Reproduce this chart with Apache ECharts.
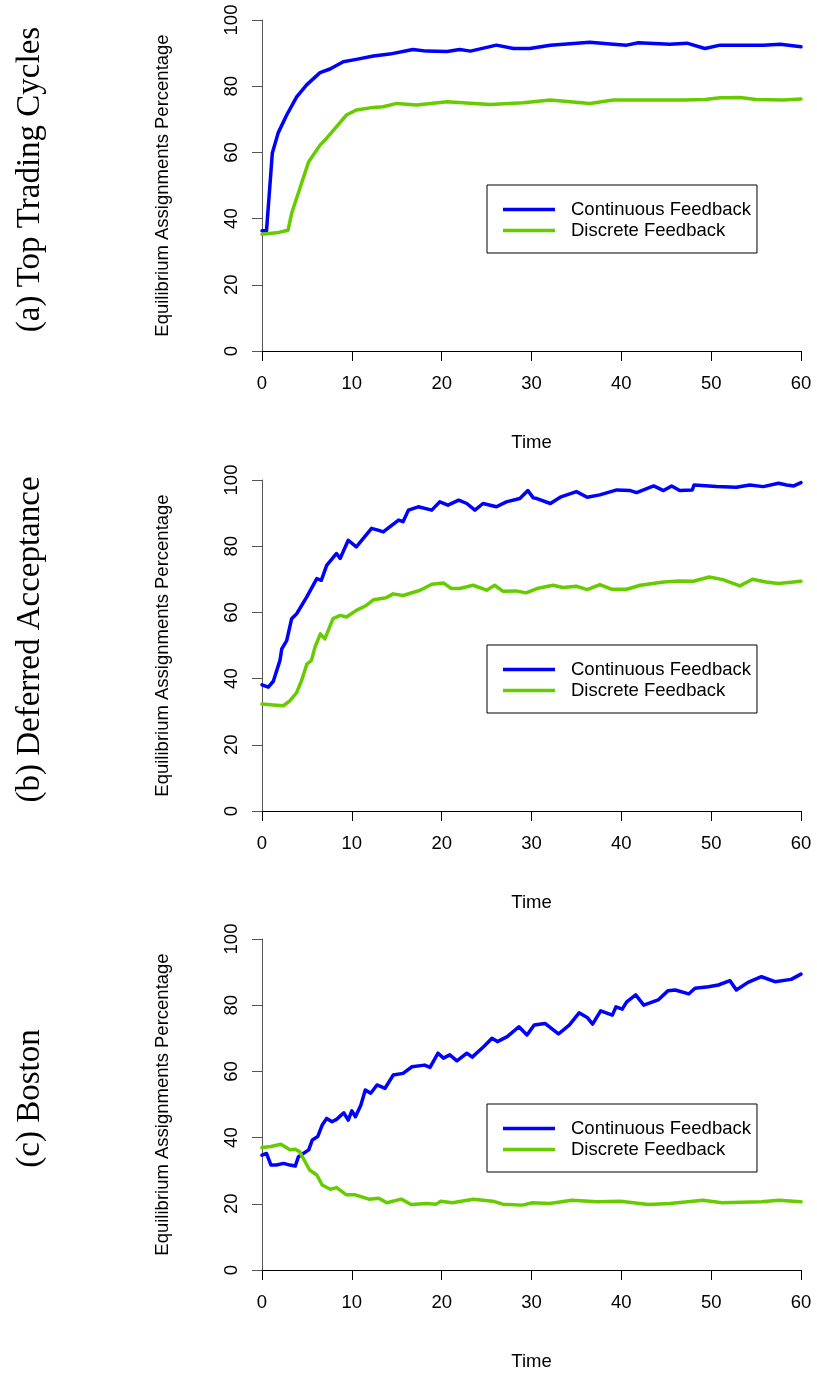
<!DOCTYPE html>
<html>
<head>
<meta charset="utf-8">
<script src="https://cdn.jsdelivr.net/npm/echarts@6.0.0/dist/echarts.min.js"></script>
<style>
  html, body { margin: 0; padding: 0; background: #fff; }
  #chart { width: 817px; height: 1384px; }
</style>
</head>
<body>
<div id="chart"></div>
<script>
// ---- data ----
const xTicks = [0, 10, 20, 30, 40, 50, 60];
const yTicks = [0, 20, 40, 60, 80, 100];
const seriesNames = ['Continuous Feedback', 'Discrete Feedback'];
const panelTitles = ['(a) Top Trading Cycles', '(b) Deferred Acceptance', '(c) Boston'];
const yLabel = 'Equilibrium Assignments Percentage';
const xLabel = 'Time';

// (a) Top Trading Cycles
const ttcContinuous = [[0,36.3],[0.5,36.3],[1.15,59.8],[1.8,65.9],[2.75,71.3],[3.86,76.8],[4.97,80.4],
  [6.46,84.1],[7.57,85.2],[9.05,87.4],[10.5,88.1],[12.4,89.1],[14.2,89.7],[16.1,90.7],[16.8,91.1],
  [18.3,90.6],[20.6,90.5],[22,91.1],[23.2,90.6],[26.1,92.4],[28,91.4],[29.8,91.4],[32.1,92.4],
  [36.5,93.3],[39.1,92.7],[40.6,92.4],[41.9,93.1],[45.4,92.7],[47.3,93],[49.3,91.4],[51,92.4],
  [55.8,92.4],[57.7,92.7],[60,91.9]];
const ttcDiscrete = [[0,35.3],[1.6,35.7],[2.9,36.5],[3.3,41.6],[4.4,50.7],[5.2,57.2],[6.46,62.2],
  [7.2,64.3],[8.3,67.8],[9.4,71.3],[10.5,72.8],[12.4,73.6],[13.5,73.8],[15,74.8],[17.2,74.3],
  [20.6,75.3],[25.4,74.5],[29.1,75],[32.1,75.8],[36.5,74.8],[39.1,75.8],[44.7,75.8],[47,75.8],
  [49.3,76],[51,76.5],[53.2,76.6],[55,76],[58,75.8],[60,76.1]];

// (b) Deferred Acceptance
const daContinuous = [[0,38.1],[0.7,37.4],[1.26,39.2],[2,45.5],[2.2,49],[2.75,51.5],[3.3,58.1],
  [3.86,59.6],[4.97,64.6],[6.1,70.2],[6.6,69.7],[7.2,74.2],[8.3,77.8],[8.7,76.3],[9.6,81.8],
  [10.5,79.8],[12.2,85.4],[13,84.8],[13.5,84.3],[15.2,87.9],[15.7,87.4],[16.3,90.9],[17.4,91.9],
  [18.9,90.9],[19.8,93.4],[20.7,92.4],[21.9,93.9],[22.8,92.9],[23.7,90.9],[24.6,92.9],[26.1,91.9],
  [27.2,93.4],[28.7,94.4],[29.6,96.8],[30.2,94.6],[30.6,94.4],[32.1,92.9],[33.2,94.8],[35,96.5],
  [36.2,94.8],[37.6,95.5],[39.5,97],[41,96.8],[41.7,96.2],[43.6,98.2],[44.7,96.8],[45.6,98.2],
  [46.5,96.8],[47.9,97],[48.1,98.5],[50.6,98],[52.8,97.8],[54.3,98.5],[55.8,98],[57.5,99],
  [58.4,98.5],[59.2,98.2],[60,99.2]];
const daDiscrete = [[0,32.3],[1.26,32],[2.38,31.8],[3.1,33.3],[3.86,35.8],[4.4,39.4],[5,44.4],
  [5.5,45.5],[5.9,49.5],[6.5,53.5],[7,52],[7.9,58.1],[8.7,59.1],[9.4,58.6],[10.5,60.6],[11.6,62.1],
  [12.4,63.8],[13.8,64.4],[14.6,65.6],[15.7,65.1],[17.6,66.7],[18.9,68.5],[20.2,68.9],[21.1,67.2],
  [22,67.2],[23.5,68.2],[25,66.7],[25.9,68.2],[26.8,66.4],[28.3,66.5],[29.4,65.9],[30.6,67.2],
  [32.4,68.2],[33.5,67.5],[35,67.9],[36.2,66.9],[37.6,68.4],[38.9,67],[40.6,67],[42.1,68.2],
  [44.7,69.2],[46.5,69.5],[48,69.4],[49.8,70.7],[51.3,69.9],[53.2,68],[54.6,70],[56.1,69.2],
  [57.5,68.7],[60,69.4]];

// (c) Boston
const bosContinuous = [[0,34.7],[0.5,35.2],[1,31.7],[1.6,31.7],[2.4,32.2],[3.1,31.7],[3.7,31.4],
  [4.05,34.2],[5.2,36.3],[5.6,39.3],[6.2,40.3],[6.7,43.8],[7.2,45.8],[7.8,44.8],[8.3,45.5],
  [9.1,47.5],[9.6,45.3],[10,48.1],[10.4,46.3],[11,49.8],[11.5,54.4],[12.1,53.4],[12.8,55.9],
  [13.7,54.9],[14.6,58.9],[15.7,59.4],[16.7,61.4],[18.1,61.9],[18.7,61.2],[19.6,65.5],[20.2,64],
  [20.9,65],[21.7,63.2],[22.8,65.5],[23.4,64.3],[24.7,67.5],[25.6,70],[26.2,69],[27.3,70.5],
  [28.6,73.5],[29.5,71],[30.3,74],[31.5,74.5],[33,71.3],[34.2,74],[35.3,77.7],[36.2,76.3],
  [36.8,74.3],[37.7,78.3],[39,77],[39.4,79.5],[40.1,78.8],[40.6,81],[41.6,83.1],[42.5,80],
  [44.1,81.6],[45.2,84.4],[46,84.6],[47.5,83.4],[48.2,85.1],[49.7,85.6],[50.8,86.1],[52.1,87.4],
  [52.8,84.6],[54.1,86.9],[55.6,88.6],[57.1,87.1],[58.9,87.8],[60,89.4]];
const bosDiscrete = [[0,37],[1,37.3],[2.1,38],[3.1,36.3],[3.7,36.5],[4.2,35.7],[4.8,32.7],[5.3,30.2],
  [6.1,28.7],[6.7,25.7],[7.6,24.4],[8.3,24.9],[9.4,22.7],[10.4,22.7],[11.9,21.4],[13,21.7],
  [13.9,20.3],[15.5,21.4],[16.6,19.8],[18.3,20.1],[19.4,19.9],[19.9,20.8],[21.2,20.3],[23.5,21.4],
  [25.7,20.8],[26.8,19.9],[29,19.6],[30.1,20.3],[32,20.1],[34.5,21.1],[37.3,20.6],[39.9,20.8],
  [43,19.8],[45.4,20.1],[49.1,21.1],[51.2,20.3],[55.6,20.6],[57.5,21.1],[60,20.6]];

const panelData = [
  [ttcContinuous, ttcDiscrete],
  [daContinuous, daDiscrete],
  [bosContinuous, bosDiscrete]
];
const lineColors = ['#0000ff', '#66cc00'];

// ---- layout ----
const gridTops = [20, 480, 939];
const gridHeight = 331;
const gridLeft = 262;
const gridWidth = 539;
const sans = 'Liberation Sans, Arial, Helvetica, sans-serif';
const serif = 'Liberation Serif, Times New Roman, serif';

const chart = echarts.init(document.getElementById('chart'));

const grid = [], xAxis = [], yAxis = [], series = [], legend = [], graphic = [];
panelData.forEach((pair, i) => {
  grid.push({ left: gridLeft, top: gridTops[i], width: gridWidth, height: gridHeight, containLabel: false });
  xAxis.push({
    gridIndex: i, type: 'value', min: 0, max: 60, interval: 10,
    axisLine: { show: true, onZero: false, lineStyle: { color: '#000', width: 1 } },
    axisTick: { show: true, inside: false, length: 10, lineStyle: { color: '#000', width: 1 } },
    axisLabel: { color: '#000', fontSize: 18.5, fontFamily: sans, margin: 23,
      customValues: xTicks },
    splitLine: { show: false }
  });
  yAxis.push({
    gridIndex: i, type: 'value', min: 0, max: 100, interval: 20,
    axisLine: { show: true, onZero: false, lineStyle: { color: '#555', width: 1 } },
    axisTick: { show: true, inside: false, length: 10, lineStyle: { color: '#555', width: 1 } },
    axisLabel: { color: '#000', fontSize: 18.5, fontFamily: sans, margin: 21, rotate: 90,
      customValues: yTicks },
    splitLine: { show: false }
  });
  pair.forEach((data, k) => {
    series.push({
      name: seriesNames[k], type: 'line', xAxisIndex: i, yAxisIndex: i,
      data: data, showSymbol: false, symbol: 'none', smooth: false,
      lineStyle: { color: lineColors[k], width: 3.5, join: 'round', cap: 'round' },
      itemStyle: { color: lineColors[k] },
      animation: false
    });
  });
  legend.push({
    data: seriesNames, orient: 'vertical', left: 487, top: gridTops[i] + 165,
    icon: 'rect', itemWidth: 52, itemHeight: 3.5, itemGap: 2,
    padding: [15, 6, 13, 16],
    borderColor: '#000', borderWidth: 1, borderRadius: 0, backgroundColor: '#fff',
    textStyle: { color: '#000', fontSize: 18.5, fontFamily: sans, lineHeight: 17, padding: [0, 0, 0, 11] },
    selectedMode: false
  });
  const mid = gridTops[i] + gridHeight / 2;
  graphic.push({
    type: 'text', x: 30, y: mid - 6, rotation: Math.PI / 2,
    style: { text: panelTitles[i], font: '33px ' + serif, fill: '#000', align: 'center', verticalAlign: 'middle' }
  });
  graphic.push({
    type: 'text', x: 163, y: mid, rotation: Math.PI / 2,
    style: { text: yLabel, font: '18.5px ' + sans, fill: '#000', align: 'center', verticalAlign: 'middle' }
  });
  graphic.push({
    type: 'text', x: gridLeft + gridWidth / 2, y: gridTops[i] + gridHeight + 92,
    style: { text: xLabel, font: '18.5px ' + sans, fill: '#000', align: 'center', verticalAlign: 'middle' }
  });
});

chart.setOption({
  backgroundColor: '#fff',
  animation: false,
  grid, xAxis, yAxis, series, legend, graphic
});
</script>
</body>
</html>
